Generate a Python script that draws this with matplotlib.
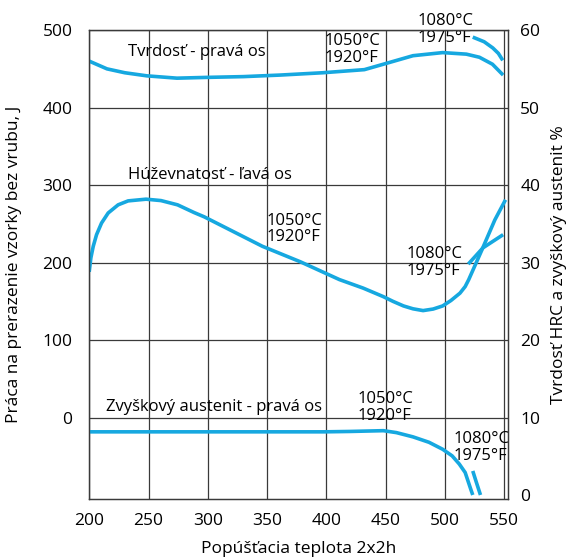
import matplotlib
matplotlib.use('Agg')
import matplotlib.pyplot as plt

plt.rcParams['font.family'] = ['Open Sans', 'DejaVu Sans']

# tvrdost (prava os), 1050 C
tvrd_x = [200, 215, 230, 248.6, 274, 299, 330, 361, 397, 432, 448, 473, 498, 518, 529, 540, 549]
tvrd_y = [56.0, 55.0, 54.5, 54.1, 53.8, 53.9, 54.0, 54.2, 54.5, 54.9, 55.6, 56.7, 57.1, 56.9, 56.5, 55.6, 54.2]
# tvrdost, 1080 C
tvrd2_x = [523.4, 533, 540.3, 545, 548.7]
tvrd2_y = [59.1, 58.5, 57.7, 57.0, 56.1]

# huzevnatost (lava os), 1050 C
huz_x = [200, 201.4, 203.4, 206.2, 210.4, 216, 224.4, 232.8, 247.9, 260.5, 274.5, 288.5, 297,
         346, 378, 411, 431, 448, 456, 465, 473, 481.5, 490, 498, 505, 512.6, 517, 520,
         531, 542, 551]
huz_y = [188, 206, 221, 236, 251, 264, 274.5, 279.6, 281.8, 280, 274.5, 264.5, 259,
         221, 201, 178, 167, 156, 150, 144, 140.3, 138, 140, 144, 151, 160.5, 169, 178,
         216, 255, 281]
# huzevnatost, 1080 C
huz2_x = [519.6, 532, 549]
huz2_y = [198, 219, 236]

# zvyskovy austenit (prava os), 1050 C
aus_x = [200, 300, 398, 420, 448, 459, 473, 486.5, 498, 506, 512, 517, 521.7, 523.4]
aus_y = [8.15, 8.15, 8.15, 8.2, 8.3, 8.05, 7.5, 6.8, 5.9, 5.05, 4.0, 2.9, 0.75, 0.0]
# zvyskovy austenit, 1080 C
aus2_x = [523.4, 526.5, 529.9]
aus2_y = [3.1, 1.6, 0.0]

x_ticks = [200, 250, 300, 350, 400, 450, 500, 550]
left_ticks = [0, 100, 200, 300, 400, 500]
right_ticks = [0, 10, 20, 30, 40, 50, 60]

blue = '#16a8e0'
fs = 12.5   # osi
fa = 12     # popisky v grafe

fig = plt.figure(figsize=(5.7, 5.58), dpi=100)
ax = fig.add_axes([0.1565, 0.106, 0.7345, 0.84])
ax2 = ax.twinx()

ax.set_xlim(200, 553)
ax.set_ylim(-105, 500)
ax2.set_ylim(-0.5, 60)

ax.set_xticks(x_ticks)
ax.set_yticks(left_ticks)
ax2.set_yticks(right_ticks)
ax.tick_params(axis='x', length=0, labelsize=fs, pad=10)
ax.tick_params(axis='y', length=0, labelsize=fs, pad=12)
ax2.tick_params(length=0, labelsize=fs, pad=9)

ax.grid(True, color='#3a3a3a', linewidth=0.9)
for a in (ax, ax2):
    for s in a.spines.values():
        s.set_color('#3a3a3a')
        s.set_linewidth(0.9)

ax.plot(huz_x, huz_y, color=blue, lw=2.6, solid_capstyle='butt')
ax.plot(huz2_x, huz2_y, color=blue, lw=2.6, solid_capstyle='butt')
ax2.plot(tvrd_x, tvrd_y, color=blue, lw=2.6, solid_capstyle='butt')
ax2.plot(tvrd2_x, tvrd2_y, color=blue, lw=2.6, solid_capstyle='butt')
ax2.plot(aus_x, aus_y, color=blue, lw=2.6, solid_capstyle='butt')
ax2.plot(aus2_x, aus2_y, color=blue, lw=2.6, solid_capstyle='butt')

# popisky
ax.text(232.3, 472, 'Tvrdosť - pravá os', fontsize=fa, va='center', ha='left')
ax.text(232.6, 313, 'Húževnatosť - ľavá os', fontsize=fa, va='center', ha='left')
ax.text(214, 14, 'Zvyškový austenit - pravá os', fontsize=fa, va='center', ha='left')
ax.text(349.4, 243.5, '1050°C\n1920°F', fontsize=fa, va='center', ha='left', linespacing=1.05)
ax.text(398.5, 475, '1050°C\n1920°F', fontsize=fa, va='center', ha='left', linespacing=1.05)
ax.text(477, 500.6, '1080°C\n1975°F', fontsize=fa, va='center', ha='left', linespacing=1.05)
ax.text(467.2, 200, '1080°C\n1975°F', fontsize=fa, va='center', ha='left', linespacing=1.05)
ax.text(426.5, 13, '1050°C\n1920°F', fontsize=fa, va='center', ha='left', linespacing=1.05)
ax.text(507, -38.5, '1080°C\n1975°F', fontsize=fa, va='center', ha='left', linespacing=1.05)

ax.set_xlabel('Popúšťacia teplota 2x2h', fontsize=fs, labelpad=9)
ax.set_ylabel('Práca na prerazenie vzorky bez vrubu, J', fontsize=fs, labelpad=15)
ax2.set_ylabel('Tvrdosť HRC a zvyškový austenit %', fontsize=fs, labelpad=8)

fig.savefig('out.png', dpi=100)
